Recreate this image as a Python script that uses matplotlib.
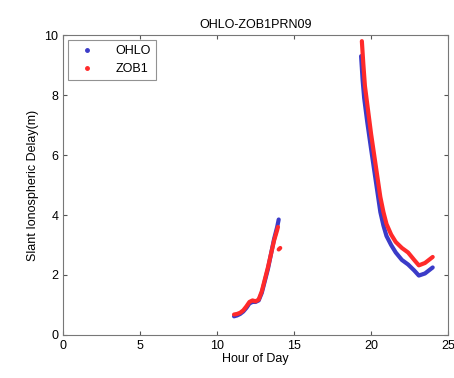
import numpy as np
import matplotlib
matplotlib.use("Agg")
import matplotlib.pyplot as plt
from matplotlib.lines import Line2D

plt.rcParams['font.family'] = ['Liberation Sans', 'DejaVu Sans']

title = "OHLO-ZOB1PRN09"
xlabel = "Hour of Day"
ylabel = "Slant Ionospheric Delay(m)"
series_names = ["OHLO", "ZOB1"]

# OHLO
ohlo_x1 = [11.1, 11.3, 11.5, 11.7, 11.9, 12.1, 12.3, 12.5, 12.7, 12.9, 13.1, 13.3, 13.5, 13.7, 13.9, 14.0]
ohlo_y1 = [0.62, 0.65, 0.70, 0.78, 0.90, 1.05, 1.10, 1.10, 1.15, 1.40, 1.80, 2.20, 2.70, 3.20, 3.60, 3.85]
ohlo_x2 = [19.35, 19.45, 19.55, 19.75, 20.0, 20.2, 20.4, 20.6, 20.8, 21.0, 21.3, 21.6, 22.0, 22.4, 22.8, 23.1, 23.5, 24.0]
ohlo_y2 = [9.3, 8.5, 7.9, 7.1, 6.2, 5.5, 4.8, 4.1, 3.65, 3.3, 3.0, 2.75, 2.5, 2.35, 2.15, 1.98, 2.05, 2.25]

# ZOB1
zob_x1 = [11.1, 11.3, 11.5, 11.7, 11.9, 12.1, 12.3, 12.5, 12.7, 12.9, 13.1, 13.3, 13.5, 13.7, 13.9, 13.95]
zob_y1 = [0.68, 0.70, 0.74, 0.82, 0.95, 1.10, 1.15, 1.12, 1.18, 1.45, 1.85, 2.25, 2.70, 3.15, 3.50, 3.60]
zob_x1b = [14.0, 14.1]
zob_y1b = [2.85, 2.90]
zob_x2 = [19.4, 19.5, 19.6, 19.8, 20.0, 20.2, 20.4, 20.6, 20.8, 21.0, 21.3, 21.6, 22.0, 22.4, 22.8, 23.1, 23.5, 24.0]
zob_y2 = [9.8, 9.0, 8.3, 7.5, 6.7, 6.0, 5.3, 4.6, 4.1, 3.7, 3.35, 3.1, 2.9, 2.75, 2.5, 2.32, 2.4, 2.6]

blue = "#3b3bc8"
red = "#ff2a2a"

fig = plt.figure(figsize=(4.54, 3.78), dpi=100)
ax = fig.add_axes([0.139, 0.114, 0.848, 0.793])

kw = dict(linewidth=3, solid_capstyle='round', solid_joinstyle='round')
ax.plot(ohlo_x1, ohlo_y1, color=blue, **kw)
ax.plot(ohlo_x2, ohlo_y2, color=blue, **kw)
ax.plot(zob_x1, zob_y1, color=red, **kw)
ax.plot(zob_x1b, zob_y1b, color=red, **kw)
ax.plot(zob_x2, zob_y2, color=red, **kw)

ax.set_xlim(0, 25)
ax.set_ylim(0, 10)
ax.set_xticks([0, 5, 10, 15, 20, 25])
ax.set_yticks([0, 2, 4, 6, 8, 10])
ax.tick_params(direction='in', top=True, right=True, labelsize=9, length=3, color='#555555')
for s in ax.spines.values():
    s.set_color('#777777')
ax.set_title(title, fontsize=9, pad=5)
ax.set_xlabel(xlabel, fontsize=9, labelpad=1)
ax.set_ylabel(ylabel, fontsize=9, labelpad=4)

handles = [Line2D([], [], color=blue, marker='.', linestyle='none', markersize=5),
           Line2D([], [], color=red, marker='.', linestyle='none', markersize=5)]
leg = ax.legend(handles, series_names, loc='upper left', fontsize=9, fancybox=False,
                edgecolor='#777777', handletextpad=1.2, borderaxespad=0.4, handlelength=2.2)
leg.get_frame().set_linewidth(0.8)

fig.savefig("out.png", dpi=100)
